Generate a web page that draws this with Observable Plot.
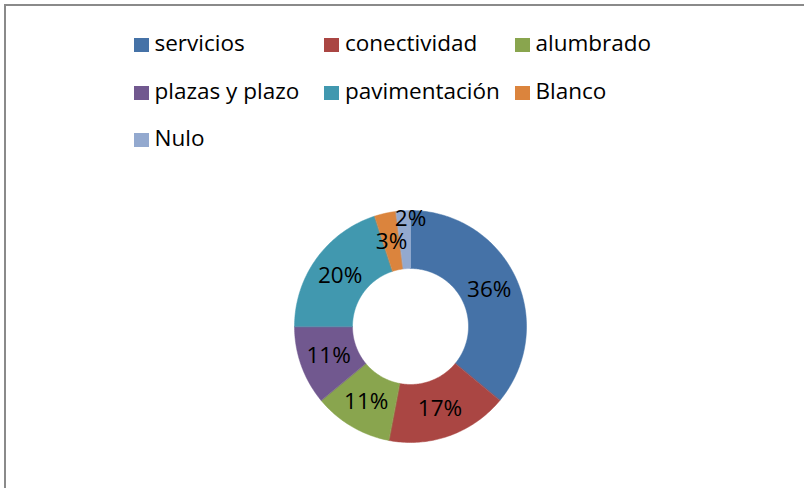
<!DOCTYPE html>
<html>
<head>
<meta charset="utf-8">
<script src="https://cdn.jsdelivr.net/npm/d3@7"></script>
<script src="https://cdn.jsdelivr.net/npm/@observablehq/plot@0.6"></script>
<style>
  body { margin: 0; background: #fff; }
  #wrap { position: relative; width: 804px; height: 488px; overflow: hidden; font-family: "Open Sans", sans-serif; }
  #frame { position: absolute; left: 4px; top: 4px; width: 900px; height: 600px; border-left: 2px solid #8a8a8a; border-top: 2px solid #8a8a8a; box-sizing: border-box; }
  .item { position: absolute; height: 30px; width: 190px; }
  .sw { position: absolute; left: 0; top: 10px; width: 15px; height: 14px; }
  .tx { position: absolute; left: 21px; top: 0; font-size: 22.5px; line-height: 30px; color: #000; white-space: nowrap; }
  #chart { position: absolute; left: 0; top: 170px; }
</style>
</head>
<body>
<div id="wrap">
  <div id="frame"></div>
  <div id="legend"></div>
  <div id="chart"></div>
</div>
<script>
const categories = ["servicios", "conectividad", "alumbrado", "plazas y plazo", "pavimentación", "Blanco", "Nulo"];
const values = [36, 17, 11, 11, 20, 3, 2];
const colors = ["#4572A7", "#AA4643", "#89A54E", "#71588F", "#4198AF", "#DB843D", "#93A9CF"];

const rows = categories.map((c, i) => ({cat: c, value: values[i]}));
const total = d3.sum(values);
const arcs = d3.pie().sort(null).value(d => d.value)(rows);

const inner = 0.5;
const poly = [];
for (const a of arcs) {
  const n = Math.max(2, Math.ceil((a.endAngle - a.startAngle) / (Math.PI / 180)));
  for (let k = 0; k <= n; k++) {
    const t = a.startAngle + (a.endAngle - a.startAngle) * k / n;
    poly.push({cat: a.data.cat, x: Math.sin(t), y: Math.cos(t)});
  }
  for (let k = n; k >= 0; k--) {
    const t = a.startAngle + (a.endAngle - a.startAngle) * k / n;
    poly.push({cat: a.data.cat, x: inner * Math.sin(t), y: inner * Math.cos(t)});
  }
}
const labels = arcs.map(a => {
  const m = (a.startAngle + a.endAngle) / 2;
  const share = a.data.value / total;
  const small = share < 0.025;
  const r = small ? 0.93 : 0.75;
  const t = small ? a.endAngle : m;
  return {cat: a.data.cat, x: r * Math.sin(t), y: r * Math.cos(t), text: Math.round(share * 100) + "%"};
});

const chart = Plot.plot({
  width: 804,
  height: 310,
  margin: 0,
  x: {domain: [-1, 1], range: [294, 526], axis: null},
  y: {domain: [-1, 1], range: [272, 40], axis: null},
  color: {domain: categories, range: colors},
  style: {background: "transparent"},
  marks: [
    Plot.line(poly, {x: "x", y: "y", z: "cat", fill: "cat", stroke: "cat", strokeWidth: 0.5, curve: "linear-closed"}),
    Plot.text(labels, {x: "x", y: "y", text: "text", fontSize: 22.5, fill: "black", fontFamily: "Open Sans, sans-serif"})
  ]
});
document.getElementById("chart").appendChild(chart);

const legend = document.getElementById("legend");
categories.forEach((c, i) => {
  const col = i % 3, row = Math.floor(i / 3);
  const el = document.createElement("div");
  el.className = "item";
  el.style.left = (133.5 + col * 190.5) + "px";
  el.style.top = (28 + row * 47.5) + "px";
  const sw = document.createElement("span");
  sw.className = "sw";
  sw.style.background = colors[i];
  const tx = document.createElement("span");
  tx.className = "tx";
  tx.textContent = c;
  el.appendChild(sw);
  el.appendChild(tx);
  legend.appendChild(el);
});
</script>
</body>
</html>
